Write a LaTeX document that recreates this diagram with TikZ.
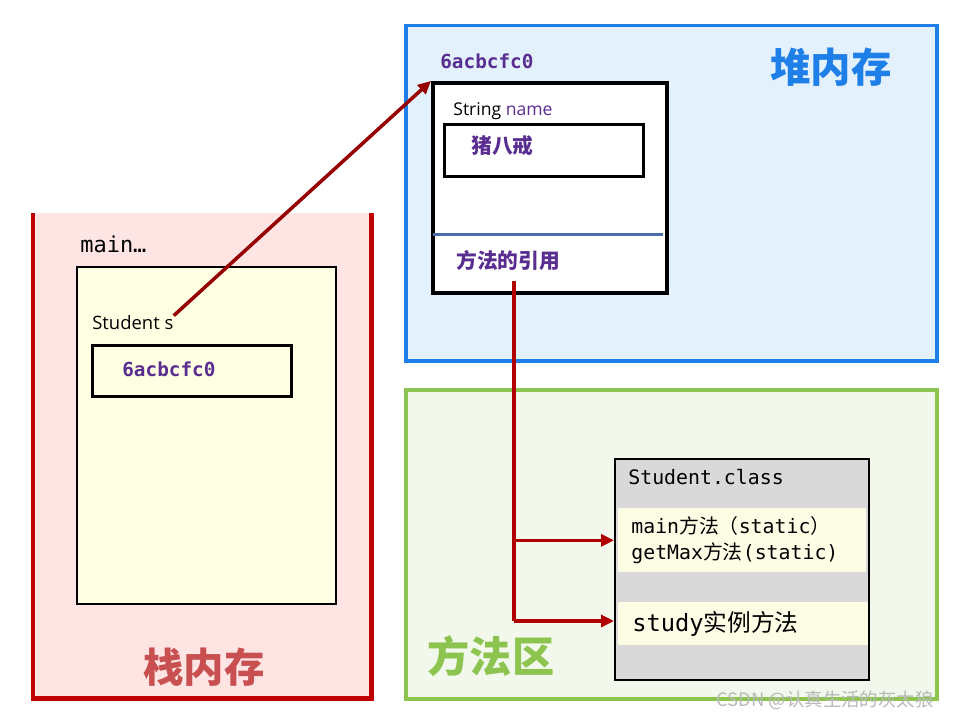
\documentclass[tikz,border=0pt]{standalone}
\usepackage{fontspec}
\setmainfont{Open Sans}
\newfontfamily\mono{DejaVu Sans Mono}
\newfontfamily\cjk{Noto Sans CJK SC}
\usetikzlibrary{arrows.meta}
\definecolor{stackpink}{HTML}{FFE4E4}
\definecolor{stackred}{HTML}{C00000}
\definecolor{stacktxt}{HTML}{C85050}
\definecolor{frameyellow}{HTML}{FFFFE3}
\definecolor{addr}{HTML}{5A2D91}
\definecolor{heapblue}{HTML}{E3F1FC}
\definecolor{heapline}{HTML}{1F7FE8}
\definecolor{methgreen}{HTML}{F2F8EC}
\definecolor{methline}{HTML}{8DC450}
\definecolor{classgray}{HTML}{D9D9D9}
\definecolor{bandyellow}{HTML}{FDFDE6}
\definecolor{refred}{HTML}{B00000}
\definecolor{divline}{HTML}{4A6EA8}
\newcommand\zh[1]{{\cjk #1}}
\newcommand\headfont{\fontsize{23}{26}\selectfont\cjk\bfseries}
\newcommand\addrfont{\fontsize{11}{13}\selectfont\mono\bfseries}
\newcommand\codefont{\fontsize{11.3}{14.8}\selectfont\mono}
\newcommand\zhbfont{\fontsize{11.8}{14}\selectfont\cjk\bfseries}

\begin{document}
\begin{tikzpicture}[x = 0.2mm, y = -0.2mm,
  area/.style = {anchor=north west, inner sep=0},
  box/.style = {draw, line width=0.55mm, anchor=north west, inner sep=0},
  band/.style = {fill=bandyellow, anchor=north west, inner sep=0},
  lbl/.style = {anchor=west, inner sep=0},
  ref/.style = {draw=refred, line width=0.65mm},
  arr/.style = {ref, -{Triangle[length=2.6mm, width=2.4mm]}}]
	\fill[white] (0,0) rectangle (955,720);
	\useasboundingbox (0,0) rectangle (955,720);
	% stack
	\node[area, fill=stackpink, minimum width=67.6mm, minimum height=97mm] (stack) at (33,213) {};
	\draw[stackred, line width=0.9mm] (stack.north west) -- (stack.south west) -- (stack.south east) -- (stack.north east);
	\node[lbl, anchor=base west, font=\fontsize{12.5}{14}\selectfont\mono] (mainlbl) at (80,253) {main…};
	\node[box, fill=frameyellow, line width=0.45mm, minimum width=51.8mm, minimum height=67.4mm] (frame) at (76,266) {};
	\node[lbl, anchor=base west, font=\fontsize{10.5}{12}\selectfont] (svar) at (92,330) {Student s};
	\node[box, minimum width=39.8mm, minimum height=10.2mm] (sbox) at (91,344) {};
	\node[lbl, text=addr, font=\addrfont] (sval) at (122,369) {6acbcfc0};
	\node[text=stacktxt, font=\headfont] (stacklbl) at (204,667) {栈内存};
	% heap
	\node[area, fill=heapblue, draw=heapline, line width=0.7mm, minimum width=106.2mm, minimum height=67mm] (heap) at (404,24) {};
	\node[lbl, text=addr, font=\addrfont] (haddr) at (440,61) {6acbcfc0};
	\node[text=heapline, font=\headfont] (heaplbl) at (831,67) {堆内存};
	\node[box, fill=white, line width=0.75mm, minimum width=46.8mm, minimum height=42mm] (obj) at (431,81) {};
	\node[lbl, anchor=base west, font=\fontsize{10}{12}\selectfont] (fname) at (453,116) {String \textcolor{addr}{name}};
	\node[box, minimum width=39.8mm, minimum height=10.4mm] (nbox) at (443,123) {};
	\node[lbl, text=addr, font=\zhbfont] (nval) at (471,146) {猪八戒};
	\draw[divline, line width=0.6mm] (433,235) -- (663,235);
	\node[lbl, text=addr, font=\zhbfont] (mref) at (456,261) {方法的引用};
	% method area
	\node[area, fill=methgreen, draw=methline, line width=0.7mm, minimum width=106.2mm, minimum height=61.8mm] (meth) at (404,388) {};
	\node[text=methline, font=\fontsize{24}{27}\selectfont\cjk\bfseries] (methlbl) at (491,656) {方法区};
	\node[box, fill=classgray, line width=0.45mm, minimum width=50.8mm, minimum height=44.2mm] (cls) at (614,458) {};
	\node[lbl, font=\codefont] (clsname) at (628,477) {Student.class};
	\node[band, minimum width=49.6mm, minimum height=12.8mm] (sband) at (618,508) {};
	\node[lbl, anchor=north west, align=left, font=\codefont] (stat) at (631,516) {main\zh{方法（}static\zh{）}\\getMax\zh{方法}(static)};
	\node[band, minimum width=50mm, minimum height=8.6mm] (iband) at (618,602) {};
	\node[lbl, font=\fontsize{13.5}{16}\selectfont\mono] (inst) at (632,624) {study\zh{实例方法}};
	% references
	\draw[arr, draw=refred!85!black, line width=0.7mm] (svar.north east) -- (obj.north west);
	\coordinate (top) at (514,281);
	\coordinate (bot) at (514,621);
	\draw[ref] (top) -- (bot);
	\draw[arr] (top |- sband.west) -- (cls.west |- sband.west);
	\draw[arr] (bot) -- (cls.west |- bot);
	\node[anchor=east, text=gray!55, font=\fontsize{10.5}{12}\selectfont\cjk] (mark) at (940,700) {CSDN @认真生活的灰太狼};
\end{tikzpicture}
\end{document}
